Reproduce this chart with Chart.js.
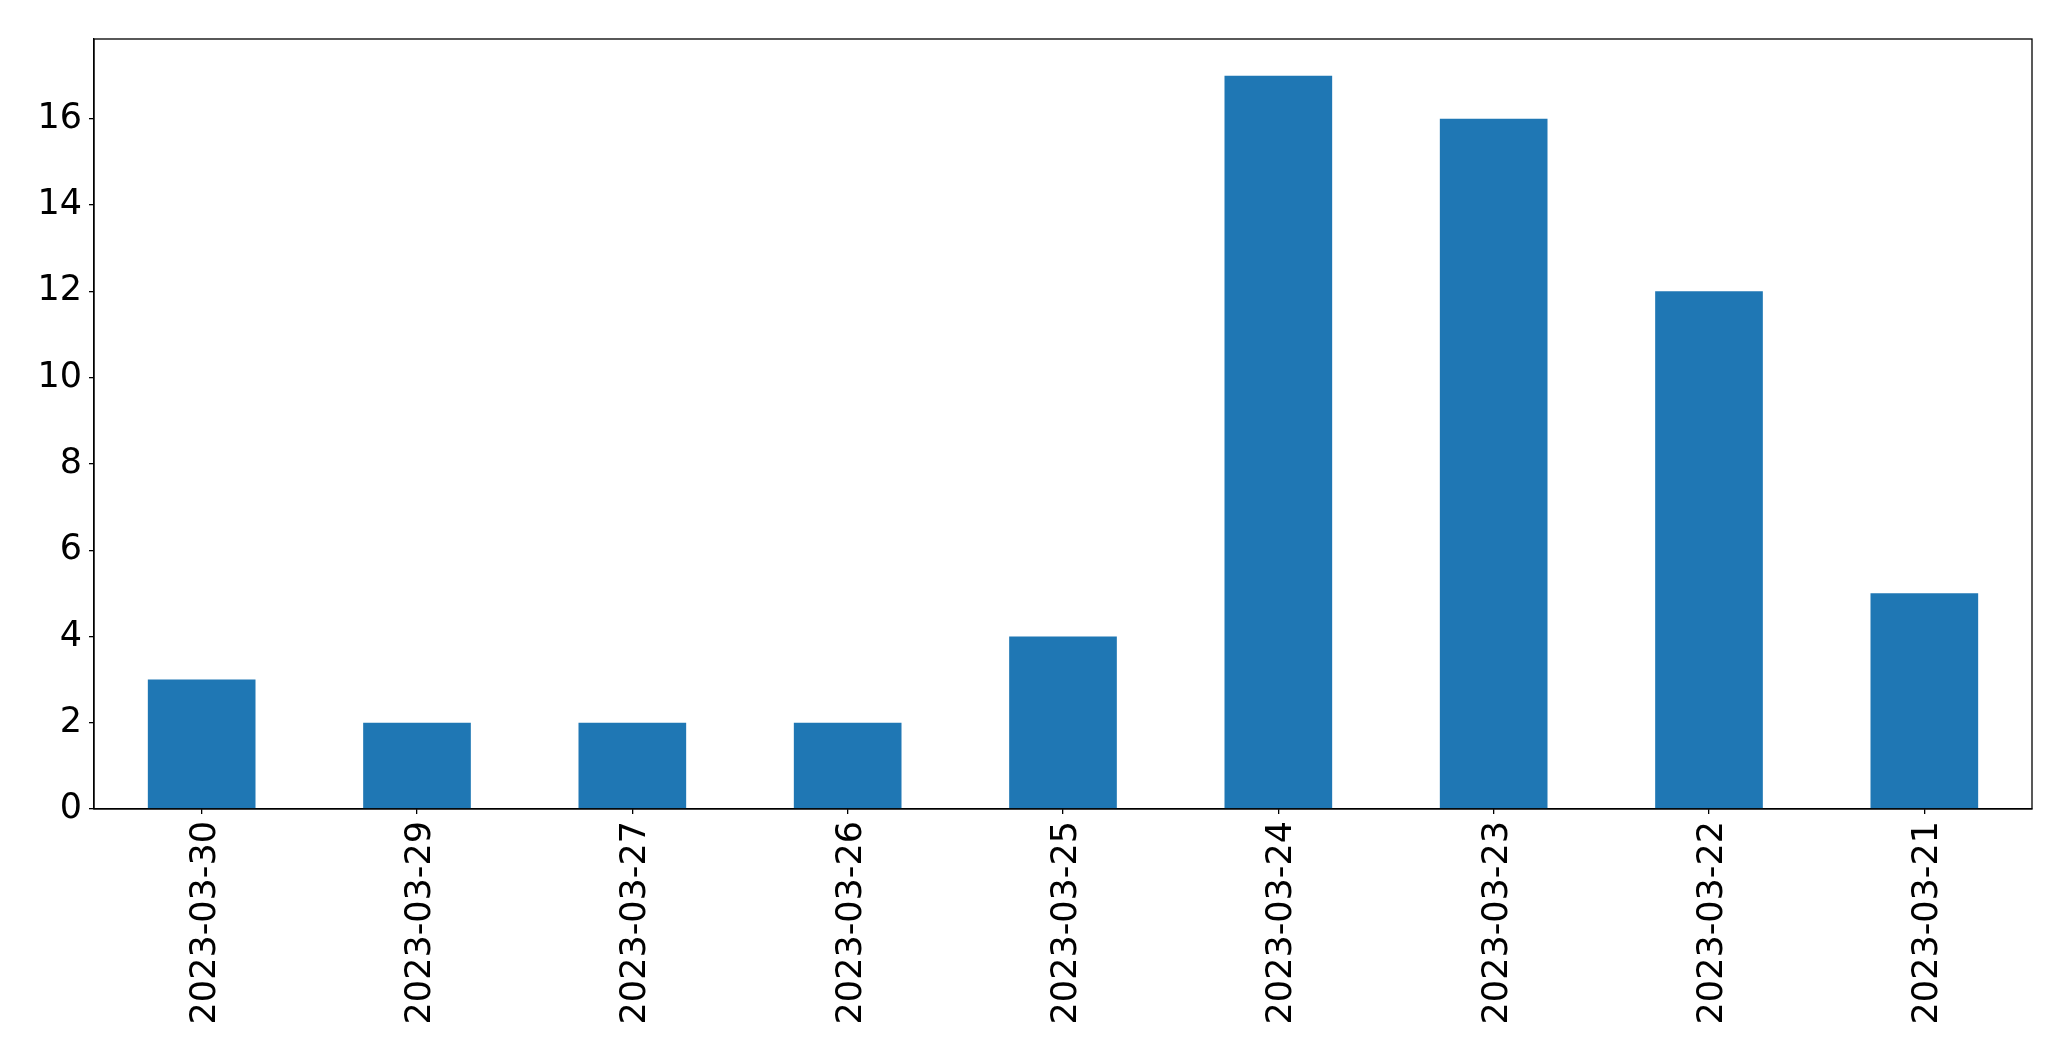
<!DOCTYPE html>
<html>
<head>
<meta charset="utf-8">
<script src="https://cdn.jsdelivr.net/npm/chart.js@4.4.0/dist/chart.umd.min.js"></script>
<style>
    html, body { margin: 0; padding: 0; background: #fff; }
    canvas { display: block; }
</style>
</head>
<body>
<canvas id="myBarChart" width="2071" height="1061"></canvas>
<script>
var dates = ['2023-03-30', '2023-03-29', '2023-03-27', '2023-03-26', '2023-03-25',
    '2023-03-24', '2023-03-23', '2023-03-22', '2023-03-21'];
var counts = [3, 2, 2, 2, 4, 17, 16, 12, 5];
var yTicks = [0, 2, 4, 6, 8, 10, 12, 14, 16];
var yMax = 17.85;

// box around the plot area, like the matplotlib frame
var frameBox = {
    id: 'frameBox',
    afterDraw: function (chart) {
        var a = chart.chartArea;
        var ctx = chart.ctx;
        ctx.save();
        ctx.strokeStyle = '#000';
        ctx.lineWidth = 1.3;
        ctx.strokeRect(a.left, a.top, a.right - a.left, a.bottom - a.top);
        ctx.restore();
    }
};

function BarChart() {
    const ctx = document.getElementById('myBarChart').getContext('2d');
    window.bar = new Chart(ctx, {
        type: 'bar',
        data: {
            labels: dates,
            datasets: [{
                data: counts,
                backgroundColor: '#1f77b4',
                barPercentage: 0.5,
                categoryPercentage: 1.0
            }]
        },
        options: {
            responsive: false,
            animation: false,
            layout: { padding: { top: 39, right: 39, left: 0, bottom: 0 } },
            plugins: { legend: { display: false }, tooltip: { enabled: false } },
            scales: {
                x: {
                    offset: true,
                    grid: { display: true, offset: false, drawOnChartArea: false, drawTicks: true, tickLength: 5, color: '#000', lineWidth: 1.3 },
                    border: { display: true, color: '#000', width: 1.3 },
                    ticks: {
                        color: '#000',
                        font: { family: 'DejaVu Sans', size: 35 },
                        maxRotation: 90,
                        minRotation: 90,
                        padding: 7,
                        labelOffset: 4,
                        autoSkip: false
                    },
                    afterFit: function (scale) { scale.height = 252; }
                },
                y: {
                    min: 0,
                    max: yMax,
                    grid: { display: true, drawOnChartArea: false, drawTicks: true, tickLength: 5, color: '#000', lineWidth: 1.3 },
                    border: { display: true, color: '#000', width: 1.3 },
                    afterBuildTicks: function (scale) {
                        scale.ticks = yTicks.map(function (v) { return { value: v }; });
                    },
                    ticks: {
                        color: '#000',
                        font: { family: 'DejaVu Sans', size: 35 },
                        padding: 7
                    },
                    afterFit: function (scale) { scale.width = 94; }
                }
            }
        },
        plugins: [frameBox]
    });
}

BarChart();
</script>
</body>
</html>
